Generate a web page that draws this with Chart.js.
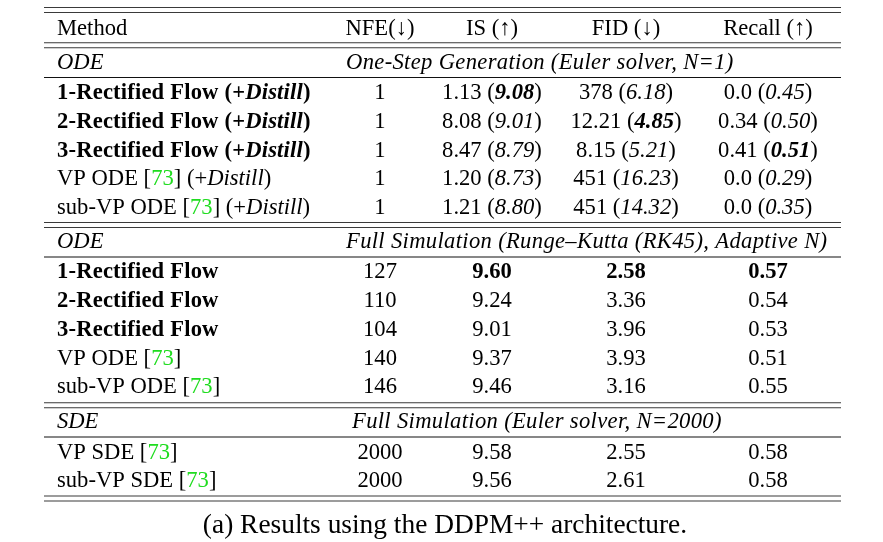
<!DOCTYPE html>
<html>
<head>
<meta charset="utf-8">
<script src="https://cdn.jsdelivr.net/npm/chart.js@4.4.1/dist/chart.umd.min.js"></script>
<style>
  body { margin: 0; background: #ffffff; }
</style>
</head>
<body>
<canvas id="myChart" width="883" height="542"></canvas>
<script>
// table content
const headers = ["Method", "NFE(\u2193)", "IS (\u2191)", "FID (\u2193)", "Recall (\u2191)"];
const sectionLabels = ["ODE", "ODE", "SDE"];
const sectionTitles = [
  "One-Step Generation (Euler solver, N=1)",
  "Full Simulation (Runge\u2013Kutta (RK45), Adaptive N)",
  "Full Simulation (Euler solver, N=2000)",
];
const odeMethods = ["1-Rectified Flow", "2-Rectified Flow", "3-Rectified Flow", "VP ODE", "sub-VP ODE"];
const odeBold = [true, true, true, false, false];
const odeRefs = ["", "", "", "73", "73"];

// one-step generation (value, distilled value)
const oneStepNFE = ["1", "1", "1", "1", "1"];
const oneStepIS = ["1.13", "8.08", "8.47", "1.20", "1.21"];
const oneStepISDistill = ["9.08", "9.01", "8.79", "8.73", "8.80"];
const oneStepFID = ["378", "12.21", "8.15", "451", "451"];
const oneStepFIDDistill = ["6.18", "4.85", "5.21", "16.23", "14.32"];
const oneStepRecall = ["0.0", "0.34", "0.41", "0.0", "0.0"];
const oneStepRecallDistill = ["0.45", "0.50", "0.51", "0.29", "0.35"];
// best distilled entries (row index)
const oneStepBest = { is: 0, fid: 1, recall: 2 };

// full simulation, ODE
const fullNFE = ["127", "110", "104", "140", "146"];
const fullIS = ["9.60", "9.24", "9.01", "9.37", "9.46"];
const fullFID = ["2.58", "3.36", "3.96", "3.93", "3.16"];
const fullRecall = ["0.57", "0.54", "0.53", "0.51", "0.55"];
const fullBest = 0;

// full simulation, SDE
const sdeMethods = ["VP SDE", "sub-VP SDE"];
const sdeRefs = ["73", "73"];
const sdeNFE = ["2000", "2000"];
const sdeIS = ["9.58", "9.56"];
const sdeFID = ["2.55", "2.61"];
const sdeRecall = ["0.58", "0.58"];

const caption = "(a) Results using the DDPM++ architecture.";

// layout (in scale units == pixels)
const colLeft = 57;
const colCenter = [380, 492, 626, 768];
const titleLeft = [346, 346, 352];
const tableLeft = 44, tableRight = 841;
const headerBase = 34.5;
const sectionBase = [69, 248.3, 428.3];
const oneStepBase = [98.5, 127.5, 156.5, 185, 213.5];
const fullBase = [278.3, 307.3, 336, 364.6, 393.3];
const sdeBase = [458.8, 487];
const doubleRules = [7.5, 42.8, 222.5, 402.7, 496];
const singleRules = [77.5, 257, 437];
const captionBase = 533;

const FONT = '"Liberation Serif", "Times New Roman", serif';
const SIZE = 22.6;
const GREEN = "#1fdc1f";

const fontFor = (style, size) =>
  (style.includes("i") ? "italic " : "") + (style.includes("b") ? "bold " : "") + size + "px " + FONT;

const methodCell = (name, bold, ref, distill) => {
  const st = bold ? "b" : "";
  const segs = [[name, st]];
  if (ref) {
    segs.push([" [", st], [ref, st, GREEN], ["]", st]);
  }
  if (distill) {
    segs.push([" (+", st], ["Distill", st + "i"], [")", st]);
  }
  return segs;
};

const pairCell = (main, paren, boldParen) => [
  [main, ""],
  [" (", ""],
  [paren, boldParen ? "bi" : "i"],
  [")", ""],
];

const drawSegs = (ctx, segs, x, y, align, size, spacing) => {
  ctx.letterSpacing = (spacing || 0) + "px";
  let w = 0;
  segs.forEach((s) => {
    ctx.font = fontFor(s[1], size);
    w += ctx.measureText(s[0]).width;
  });
  let cx = align === "center" ? x - w / 2 : x;
  segs.forEach((s) => {
    ctx.font = fontFor(s[1], size);
    ctx.fillStyle = s[2] || "#000000";
    ctx.fillText(s[0], cx, y);
    cx += ctx.measureText(s[0]).width;
  });
  ctx.letterSpacing = "0px";
};

const tablePlugin = {
  id: "tablePlugin",
  afterDraw(chart) {
    const ctx = chart.ctx;
    const xs = chart.scales.x;
    const ys = chart.scales.y;
    const px = (v) => xs.getPixelForValue(v);
    const py = (v) => ys.getPixelForValue(v);
    ctx.save();
    ctx.textBaseline = "alphabetic";
    ctx.textAlign = "left";

    // rules
    const hline = (v, color, width) => {
      ctx.strokeStyle = color;
      ctx.lineWidth = width;
      ctx.beginPath();
      ctx.moveTo(px(tableLeft), py(v));
      ctx.lineTo(px(tableRight), py(v));
      ctx.stroke();
    };
    doubleRules.forEach((v) => {
      hline(v, "#3a3a3a", 1.1);
      hline(v + 5, "#3a3a3a", 1.1);
    });
    singleRules.forEach((v) => hline(v, "#111111", 1.1));

    // header
    drawSegs(ctx, [[headers[0], ""]], px(colLeft), py(headerBase), "left", SIZE);
    for (let c = 1; c < headers.length; c++) {
      drawSegs(ctx, [[headers[c], ""]], px(colCenter[c - 1]), py(headerBase), "center", SIZE);
    }

    // section headings
    sectionLabels.forEach((lab, s) => {
      drawSegs(ctx, [[lab, "i"]], px(colLeft), py(sectionBase[s]), "left", SIZE);
      drawSegs(ctx, [[sectionTitles[s], "i"]], px(titleLeft[s]), py(sectionBase[s]), "left", SIZE, 0.33);
    });

    // one-step rows
    odeMethods.forEach((m, r) => {
      const yb = py(oneStepBase[r]);
      drawSegs(ctx, methodCell(m, odeBold[r], odeRefs[r], true), px(colLeft), yb, "left", SIZE, odeBold[r] ? 0.18 : 0);
      drawSegs(ctx, [[oneStepNFE[r], ""]], px(colCenter[0]), yb, "center", SIZE);
      drawSegs(ctx, pairCell(oneStepIS[r], oneStepISDistill[r], oneStepBest.is === r), px(colCenter[1]), yb, "center", SIZE);
      drawSegs(ctx, pairCell(oneStepFID[r], oneStepFIDDistill[r], oneStepBest.fid === r), px(colCenter[2]), yb, "center", SIZE);
      drawSegs(ctx, pairCell(oneStepRecall[r], oneStepRecallDistill[r], oneStepBest.recall === r), px(colCenter[3]), yb, "center", SIZE);
    });

    // full simulation ODE rows
    odeMethods.forEach((m, r) => {
      const yb = py(fullBase[r]);
      const st = fullBest === r ? "b" : "";
      drawSegs(ctx, methodCell(m, odeBold[r], odeRefs[r], false), px(colLeft), yb, "left", SIZE, odeBold[r] ? 0.18 : 0);
      drawSegs(ctx, [[fullNFE[r], ""]], px(colCenter[0]), yb, "center", SIZE);
      drawSegs(ctx, [[fullIS[r], st]], px(colCenter[1]), yb, "center", SIZE);
      drawSegs(ctx, [[fullFID[r], st]], px(colCenter[2]), yb, "center", SIZE);
      drawSegs(ctx, [[fullRecall[r], st]], px(colCenter[3]), yb, "center", SIZE);
    });

    // SDE rows
    sdeMethods.forEach((m, r) => {
      const yb = py(sdeBase[r]);
      drawSegs(ctx, methodCell(m, false, sdeRefs[r], false), px(colLeft), yb, "left", SIZE);
      drawSegs(ctx, [[sdeNFE[r], ""]], px(colCenter[0]), yb, "center", SIZE);
      drawSegs(ctx, [[sdeIS[r], ""]], px(colCenter[1]), yb, "center", SIZE);
      drawSegs(ctx, [[sdeFID[r], ""]], px(colCenter[2]), yb, "center", SIZE);
      drawSegs(ctx, [[sdeRecall[r], ""]], px(colCenter[3]), yb, "center", SIZE);
    });

    // caption
    drawSegs(ctx, [[caption, ""]], px(445), py(captionBase), "center", 27.4);
    ctx.restore();
  },
};

const ctx = document.getElementById("myChart").getContext("2d");
const myChart = new Chart(ctx, {
  type: "scatter",
  data: { datasets: [{ data: [] }] },
  options: {
    responsive: false,
    animation: false,
    layout: { padding: 0 },
    plugins: { legend: { display: false }, tooltip: { enabled: false } },
    scales: {
      x: { type: "linear", min: 0, max: 883, display: false },
      y: { type: "linear", min: 0, max: 542, reverse: true, display: false },
    },
  },
  plugins: [tablePlugin],
});
</script>
</body>
</html>
